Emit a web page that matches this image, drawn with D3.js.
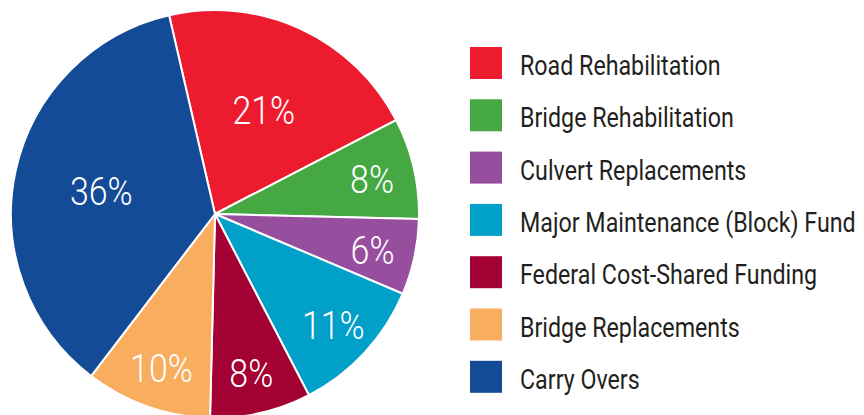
<!DOCTYPE html>
<html>
<head>
<meta charset="utf-8">
<script src="https://cdn.jsdelivr.net/npm/d3@7"></script>
<style>
  body { margin: 0; background: #fff; }
  svg text { font-family: Roboto, "Liberation Sans", sans-serif; }
</style>
</head>
<body>
<div id="chart"></div>
<script>
// chart data
const categories = ["Road Rehabilitation", "Bridge Rehabilitation", "Culvert Replacements",
    "Major Maintenance (Block) Fund", "Federal Cost-Shared Funding", "Bridge Replacements", "Carry Overs"];
const shares = [21, 8, 6, 11, 8, 10, 36];
const colors = ["#ec1c2e", "#45a843", "#984e9f", "#00a0c8", "#a30034", "#f9ad5f", "#144b97"];

let width = 864, height = 415;
let cx = 215, cy = 214, rad = 204;

// the original uses a condensed face, so squeeze text horizontally
let squeezeLegend = 0.83;
let squeezeLabel = 0.87;

let svg = d3.select("#chart")
    .append("svg")
    .attr("width", width)
    .attr("height", height);

let startAngle = -13 * Math.PI / 180;

let pie = d3.pie()
    .sort(null)
    .value(d => d)
    .startAngle(startAngle)
    .endAngle(startAngle + 2 * Math.PI);

let arc = d3.arc().innerRadius(0).outerRadius(rad);

let color = d3.scaleOrdinal().domain(categories).range(colors);

let pieGroup = svg.append("g")
    .attr("transform", "translate(" + cx + "," + cy + ")");

let arcs = pie(shares);

pieGroup.selectAll("path")
    .data(arcs)
    .enter()
    .append("path")
    .attr("d", arc)
    .attr("fill", (d, i) => color(categories[i]))
    .attr("stroke", "#fff")
    .attr("stroke-width", 2);

// big slices get their label closer to the middle
function labelRadius(d) {
    return d.value > 15 ? rad * 0.57 : rad * 0.79;
}

pieGroup.selectAll("text")
    .data(arcs)
    .enter()
    .append("text")
    .attr("transform", d => {
        let a = (d.startAngle + d.endAngle) / 2;
        let r = labelRadius(d);
        return "translate(" + (Math.sin(a) * r) + "," + (-Math.cos(a) * r) + ") scale(" + squeezeLabel + ",1)";
    })
    .attr("text-anchor", "middle")
    .attr("dy", "0.4em")
    .attr("fill", "#fff")
    .style("font-size", "39px")
    .style("font-weight", 300)
    .text(d => d.value + "%");

// legend
let legend = svg.append("g")
    .attr("transform", "translate(470,47)");

let y = d3.scaleBand().domain(categories).range([0, 52.3 * categories.length]);

let rows = legend.selectAll("g")
    .data(categories)
    .enter()
    .append("g")
    .attr("transform", d => "translate(0," + y(d) + ")");

rows.append("rect")
    .attr("width", 32)
    .attr("height", 32)
    .attr("fill", d => color(d));

rows.append("text")
    .attr("transform", "translate(50,28) scale(" + squeezeLegend + ",1)")
    .attr("fill", "#231f20")
    .style("font-size", "28px")
    .style("font-weight", 400)
    .text(d => d);
</script>
</body>
</html>
